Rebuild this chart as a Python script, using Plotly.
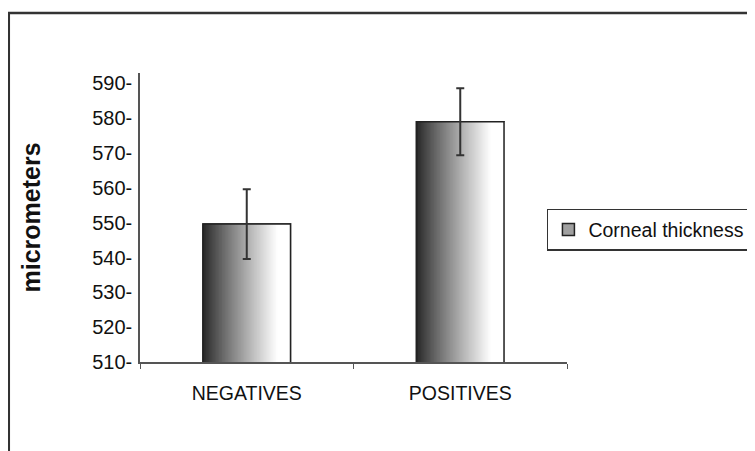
import plotly.graph_objects as go

# ---- data ----
categories = ["NEGATIVES", "POSITIVES"]
thickness = [549.6, 579.0]
error_sd = [10.0, 9.6]
series_name = "Corneal thickness"
y_title = "micrometers"
y_ticks = [510, 520, 530, 540, 550, 560, 570, 580, 590]
y_ticklabels = [f"{v}-" for v in y_ticks]

# ---- style ----
FONT = "Liberation Sans, Arial, sans-serif"
BAR_W = 0.41
N_STRIPS = 60

fig = go.Figure()

# legend carrier (underneath everything)
fig.add_trace(go.Bar(
    x=categories, y=thickness, name=series_name,
    width=BAR_W, marker=dict(color="#a0a0a0", line=dict(color="#222", width=1.5)),
    showlegend=True, hoverinfo="skip",
))

# gradient strips
sw = BAR_W / N_STRIPS
for i in range(N_STRIPS):
    t = (i + 0.5) / N_STRIPS
    g = 38 + 217 * min(1.0, t / 0.85) ** 0.9
    g = int(round(min(255, g)))
    fig.add_trace(go.Bar(
        x=categories, y=thickness,
        width=sw * 1.6, offset=-BAR_W / 2 + i * sw,
        marker=dict(color=f"rgb({g},{g},{g})", line=dict(width=0)),
        showlegend=False, hoverinfo="skip",
    ))

# outline + error bars on top
fig.add_trace(go.Bar(
    x=categories, y=thickness, width=BAR_W,
    marker=dict(color="rgba(0,0,0,0)", line=dict(color="#222", width=1.5)),
    error_y=dict(type="data", array=error_sd, visible=True,
                 color="#333", thickness=2, width=4),
    showlegend=False,
))

fig.update_layout(
    width=747, height=443,
    paper_bgcolor="white", plot_bgcolor="white",
    barmode="overlay",
    margin=dict(l=132, r=188, t=65, b=89, autoexpand=False),
    font=dict(family=FONT, size=19, color="#111"),
    legend=dict(
        x=0.953, y=0.457, xanchor="left", yanchor="middle",
        bordercolor="#333", borderwidth=1.5, bgcolor="white",
        font=dict(family=FONT, size=19.5, color="#111"),
        itemwidth=30,
    ),
    xaxis=dict(
        showline=True, linecolor="#555", linewidth=1.5,
        ticks="outside", tickson="boundaries", ticklen=5, tickcolor="#555",
        showgrid=False, zeroline=False,
        ticklabelstandoff=13,
        tickfont=dict(size=19.5, color="#111"),
    ),
    yaxis=dict(
        range=[510, 593],
        tickvals=y_ticks, ticktext=y_ticklabels,
        showline=True, linecolor="#555", linewidth=1.5,
        ticks="", showgrid=False, zeroline=False,
        tickfont=dict(size=20, color="#111"),
        ticklabelstandoff=2,
        title=dict(text=f"<b>{y_title}</b>", font=dict(size=25, color="#111"), standoff=44),
    ),
    shapes=[dict(
        type="rect", xref="paper", yref="paper",
        x0=-0.3073, x1=1.47, y0=-0.37, y1=1.2076,
        line=dict(color="#333", width=2.5), fillcolor="rgba(0,0,0,0)", layer="below",
    )],
)

fig.write_html("out.html")
